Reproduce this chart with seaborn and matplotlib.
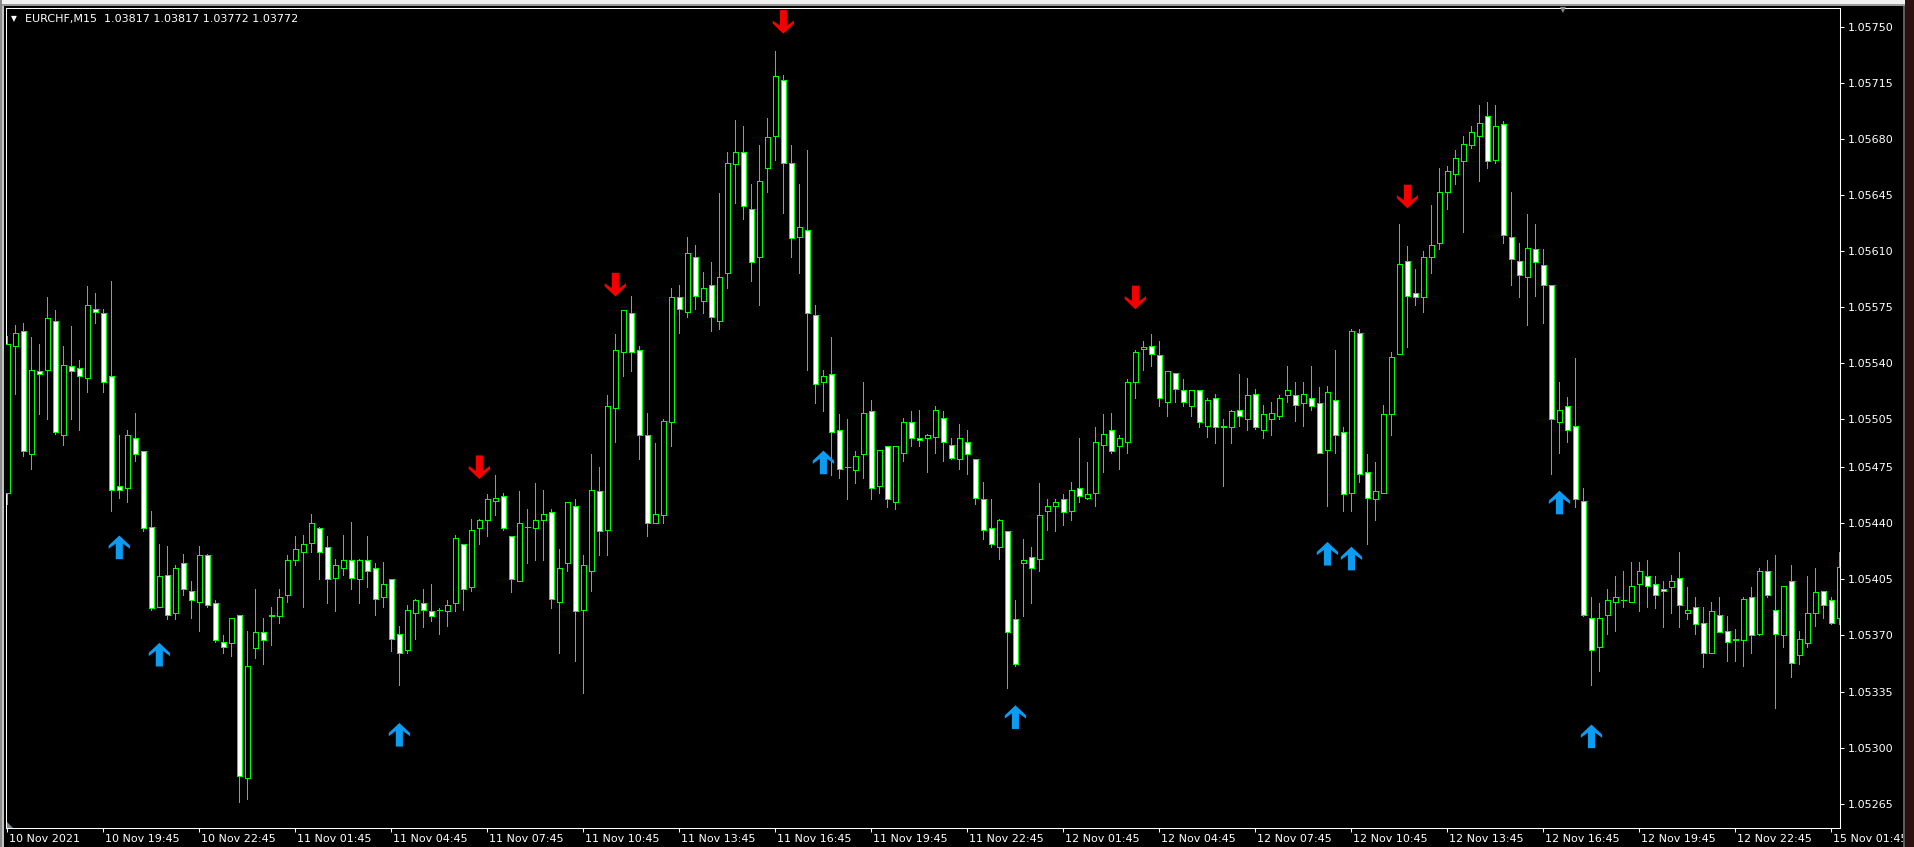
import numpy as np
import pandas as pd
import matplotlib
matplotlib.use("Agg")
import matplotlib.pyplot as plt
from matplotlib.path import Path
from matplotlib.patches import Rectangle, Polygon
from matplotlib.transforms import ScaledTranslation
import seaborn as sns

# ---------------- data (EURCHF M15) ----------------
opens = [
    1.05459, 1.05551, 1.05560, 1.05483, 1.05535, 1.05536, 1.05566, 1.05495, 1.05538, 1.05537,
    1.05531, 1.05574, 1.05571, 1.05532, 1.05463, 1.05462, 1.05493, 1.05485, 1.05438, 1.05388,
    1.05408, 1.05384, 1.05415, 1.05398, 1.05391, 1.05420, 1.05390, 1.05366, 1.05365, 1.05383,
    1.05281, 1.05362, 1.05372, 1.05382, 1.05382, 1.05395, 1.05417, 1.05422, 1.05428, 1.05437,
    1.05425, 1.05406, 1.05412, 1.05417, 1.05405, 1.05417, 1.05412, 1.05394, 1.05405, 1.05371,
    1.05361, 1.05384, 1.05390, 1.05385, 1.05386, 1.05385, 1.05390, 1.05427, 1.05400, 1.05437,
    1.05442, 1.05454, 1.05457, 1.05432, 1.05404, 1.05438, 1.05437, 1.05442, 1.05447, 1.05391,
    1.05415, 1.05451, 1.05386, 1.05410, 1.05460, 1.05436, 1.05512, 1.05547, 1.05571, 1.05548,
    1.05495, 1.05440, 1.05445, 1.05503, 1.05581, 1.05572, 1.05606, 1.05579, 1.05589, 1.05566,
    1.05596, 1.05664, 1.05672, 1.05636, 1.05606, 1.05662, 1.05682, 1.05717, 1.05665, 1.05619,
    1.05623, 1.05570, 1.05528, 1.05533, 1.05498, 1.05475, 1.05473, 1.05483, 1.05510, 1.05463,
    1.05488, 1.05453, 1.05484, 1.05503, 1.05493, 1.05493, 1.05494, 1.05506, 1.05489, 1.05480,
    1.05491, 1.05480, 1.05455, 1.05437, 1.05425, 1.05435, 1.05380, 1.05415, 1.05419, 1.05418,
    1.05448, 1.05451, 1.05455, 1.05448, 1.05462, 1.05456, 1.05459, 1.05489, 1.05498, 1.05488,
    1.05491, 1.05528, 1.05549, 1.05551, 1.05545, 1.05516, 1.05534, 1.05523, 1.05513, 1.05523,
    1.05501, 1.05518, 1.05500, 1.05500, 1.05511, 1.05505, 1.05521, 1.05498, 1.05505, 1.05507,
    1.05520, 1.05520, 1.05515, 1.05518, 1.05515, 1.05486, 1.05517, 1.05497, 1.05459, 1.05559,
    1.05472, 1.05455, 1.05459, 1.05508, 1.05546, 1.05604, 1.05584, 1.05581, 1.05606, 1.05615,
    1.05647, 1.05658, 1.05666, 1.05676, 1.05682, 1.05694, 1.05667, 1.05689, 1.05619, 1.05604,
    1.05594, 1.05611, 1.05601, 1.05589, 1.05503, 1.05513, 1.05501, 1.05454, 1.05381, 1.05363,
    1.05383, 1.05391, 1.05392, 1.05391, 1.05402, 1.05407, 1.05402, 1.05399, 1.05400, 1.05406,
    1.05384, 1.05388, 1.05378, 1.05359, 1.05383, 1.05373, 1.05368, 1.05367, 1.05394, 1.05371,
    1.05410, 1.05386, 1.05370, 1.05404, 1.05358, 1.05365, 1.05384, 1.05398, 1.05392, 1.05381,
]
highs = [
    1.05557, 1.05564, 1.05565, 1.05556, 1.05552, 1.05581, 1.05573, 1.05551, 1.05563, 1.05542,
    1.05588, 1.05584, 1.05574, 1.05591, 1.05495, 1.05498, 1.05509, 1.05485, 1.05448, 1.05427,
    1.05426, 1.05414, 1.05421, 1.05404, 1.05426, 1.05421, 1.05392, 1.05370, 1.05381, 1.05383,
    1.05373, 1.05399, 1.05381, 1.05388, 1.05399, 1.05420, 1.05432, 1.05433, 1.05446, 1.05438,
    1.05432, 1.05418, 1.05433, 1.05441, 1.05418, 1.05432, 1.05415, 1.05416, 1.05405, 1.05376,
    1.05389, 1.05393, 1.05399, 1.05402, 1.05387, 1.05392, 1.05433, 1.05427, 1.05443, 1.05443,
    1.05458, 1.05470, 1.05459, 1.05432, 1.05460, 1.05449, 1.05465, 1.05461, 1.05449, 1.05424,
    1.05453, 1.05455, 1.05420, 1.05483, 1.05475, 1.05520, 1.05558, 1.05573, 1.05582, 1.05551,
    1.05509, 1.05490, 1.05505, 1.05587, 1.05589, 1.05619, 1.05614, 1.05597, 1.05603, 1.05646,
    1.05672, 1.05692, 1.05688, 1.05652, 1.05676, 1.05693, 1.05735, 1.05720, 1.05676, 1.05652,
    1.05673, 1.05576, 1.05536, 1.05556, 1.05508, 1.05505, 1.05485, 1.05528, 1.05517, 1.05486,
    1.05488, 1.05488, 1.05506, 1.05510, 1.05511, 1.05496, 1.05513, 1.05510, 1.05493, 1.05502,
    1.05498, 1.05480, 1.05466, 1.05455, 1.05443, 1.05435, 1.05392, 1.05430, 1.05425, 1.05465,
    1.05455, 1.05455, 1.05458, 1.05466, 1.05493, 1.05478, 1.05500, 1.05508, 1.05509, 1.05495,
    1.05530, 1.05548, 1.05554, 1.05558, 1.05554, 1.05535, 1.05534, 1.05530, 1.05523, 1.05523,
    1.05518, 1.05521, 1.05505, 1.05511, 1.05533, 1.05531, 1.05524, 1.05514, 1.05516, 1.05520,
    1.05538, 1.05528, 1.05528, 1.05538, 1.05525, 1.05526, 1.05548, 1.05500, 1.05561, 1.05561,
    1.05483, 1.05478, 1.05514, 1.05547, 1.05627, 1.05613, 1.05599, 1.05610, 1.05639, 1.05662,
    1.05663, 1.05673, 1.05682, 1.05688, 1.05701, 1.05703, 1.05701, 1.05691, 1.05647, 1.05615,
    1.05633, 1.05627, 1.05611, 1.05589, 1.05528, 1.05519, 1.05543, 1.05462, 1.05394, 1.05390,
    1.05399, 1.05407, 1.05410, 1.05416, 1.05416, 1.05417, 1.05407, 1.05404, 1.05408, 1.05422,
    1.05400, 1.05394, 1.05388, 1.05391, 1.05394, 1.05382, 1.05374, 1.05394, 1.05400, 1.05412,
    1.05417, 1.05420, 1.05401, 1.05414, 1.05373, 1.05407, 1.05412, 1.05398, 1.05394, 1.05422,
]
lows = [
    1.05452, 1.05521, 1.05482, 1.05474, 1.05508, 1.05505, 1.05496, 1.05489, 1.05505, 1.05498,
    1.05522, 1.05565, 1.05522, 1.05448, 1.05456, 1.05453, 1.05479, 1.05435, 1.05386, 1.05388,
    1.05380, 1.05380, 1.05395, 1.05381, 1.05373, 1.05388, 1.05366, 1.05359, 1.05357, 1.05266,
    1.05268, 1.05356, 1.05352, 1.05364, 1.05378, 1.05391, 1.05414, 1.05388, 1.05422, 1.05405,
    1.05390, 1.05385, 1.05408, 1.05399, 1.05390, 1.05400, 1.05383, 1.05388, 1.05360, 1.05339,
    1.05359, 1.05368, 1.05375, 1.05379, 1.05371, 1.05376, 1.05385, 1.05386, 1.05398, 1.05427,
    1.05432, 1.05445, 1.05436, 1.05397, 1.05404, 1.05415, 1.05417, 1.05417, 1.05387, 1.05359,
    1.05410, 1.05354, 1.05334, 1.05398, 1.05420, 1.05420, 1.05491, 1.05532, 1.05535, 1.05480,
    1.05432, 1.05440, 1.05440, 1.05488, 1.05559, 1.05569, 1.05574, 1.05571, 1.05560, 1.05561,
    1.05587, 1.05640, 1.05630, 1.05591, 1.05576, 1.05647, 1.05667, 1.05634, 1.05606, 1.05596,
    1.05536, 1.05515, 1.05510, 1.05470, 1.05468, 1.05455, 1.05465, 1.05468, 1.05455, 1.05459,
    1.05450, 1.05449, 1.05479, 1.05488, 1.05488, 1.05472, 1.05484, 1.05479, 1.05480, 1.05474,
    1.05471, 1.05452, 1.05430, 1.05425, 1.05418, 1.05337, 1.05351, 1.05382, 1.05390, 1.05410,
    1.05436, 1.05435, 1.05439, 1.05442, 1.05453, 1.05455, 1.05451, 1.05472, 1.05484, 1.05474,
    1.05484, 1.05518, 1.05536, 1.05538, 1.05513, 1.05507, 1.05516, 1.05513, 1.05507, 1.05500,
    1.05494, 1.05490, 1.05463, 1.05490, 1.05501, 1.05498, 1.05499, 1.05493, 1.05495, 1.05505,
    1.05516, 1.05504, 1.05501, 1.05511, 1.05484, 1.05451, 1.05484, 1.05448, 1.05448, 1.05466,
    1.05427, 1.05442, 1.05459, 1.05495, 1.05546, 1.05550, 1.05576, 1.05572, 1.05596, 1.05611,
    1.05636, 1.05652, 1.05622, 1.05674, 1.05654, 1.05662, 1.05665, 1.05615, 1.05589, 1.05581,
    1.05564, 1.05582, 1.05565, 1.05471, 1.05484, 1.05491, 1.05450, 1.05382, 1.05339, 1.05348,
    1.05371, 1.05373, 1.05388, 1.05391, 1.05385, 1.05388, 1.05387, 1.05375, 1.05384, 1.05375,
    1.05380, 1.05371, 1.05350, 1.05359, 1.05372, 1.05354, 1.05354, 1.05351, 1.05359, 1.05370,
    1.05394, 1.05325, 1.05363, 1.05344, 1.05352, 1.05363, 1.05376, 1.05381, 1.05377, 1.05377,
]
closes = [
    1.05552, 1.05559, 1.05485, 1.05536, 1.05533, 1.05568, 1.05497, 1.05539, 1.05535, 1.05532,
    1.05576, 1.05572, 1.05528, 1.05461, 1.05461, 1.05495, 1.05483, 1.05437, 1.05387, 1.05407,
    1.05383, 1.05412, 1.05399, 1.05392, 1.05420, 1.05389, 1.05367, 1.05363, 1.05381, 1.05282,
    1.05351, 1.05372, 1.05367, 1.05383, 1.05394, 1.05417, 1.05424, 1.05427, 1.05440, 1.05422,
    1.05405, 1.05414, 1.05417, 1.05406, 1.05417, 1.05410, 1.05393, 1.05402, 1.05368, 1.05359,
    1.05386, 1.05392, 1.05386, 1.05382, 1.05386, 1.05389, 1.05431, 1.05399, 1.05436, 1.05442,
    1.05455, 1.05456, 1.05437, 1.05405, 1.05440, 1.05438, 1.05442, 1.05446, 1.05393, 1.05412,
    1.05453, 1.05385, 1.05414, 1.05461, 1.05435, 1.05513, 1.05548, 1.05573, 1.05547, 1.05495,
    1.05440, 1.05446, 1.05504, 1.05581, 1.05574, 1.05609, 1.05582, 1.05587, 1.05569, 1.05594,
    1.05665, 1.05672, 1.05638, 1.05603, 1.05654, 1.05681, 1.05719, 1.05665, 1.05618, 1.05625,
    1.05571, 1.05527, 1.05532, 1.05497, 1.05474, 1.05475, 1.05482, 1.05509, 1.05462, 1.05486,
    1.05455, 1.05488, 1.05503, 1.05493, 1.05492, 1.05495, 1.05511, 1.05491, 1.05481, 1.05493,
    1.05483, 1.05456, 1.05436, 1.05427, 1.05442, 1.05372, 1.05352, 1.05417, 1.05412, 1.05445,
    1.05451, 1.05453, 1.05447, 1.05461, 1.05457, 1.05458, 1.05491, 1.05496, 1.05485, 1.05493,
    1.05528, 1.05547, 1.05550, 1.05546, 1.05518, 1.05535, 1.05524, 1.05516, 1.05523, 1.05503,
    1.05517, 1.05500, 1.05501, 1.05510, 1.05507, 1.05520, 1.05500, 1.05508, 1.05509, 1.05518,
    1.05523, 1.05514, 1.05521, 1.05513, 1.05484, 1.05522, 1.05495, 1.05458, 1.05560, 1.05471,
    1.05456, 1.05460, 1.05508, 1.05544, 1.05602, 1.05582, 1.05581, 1.05606, 1.05614, 1.05647,
    1.05660, 1.05668, 1.05677, 1.05684, 1.05690, 1.05666, 1.05688, 1.05620, 1.05605, 1.05595,
    1.05612, 1.05603, 1.05589, 1.05505, 1.05511, 1.05498, 1.05455, 1.05383, 1.05361, 1.05381,
    1.05392, 1.05394, 1.05392, 1.05401, 1.05410, 1.05401, 1.05395, 1.05398, 1.05404, 1.05389,
    1.05386, 1.05377, 1.05359, 1.05385, 1.05372, 1.05366, 1.05367, 1.05393, 1.05370, 1.05410,
    1.05395, 1.05371, 1.05401, 1.05353, 1.05368, 1.05384, 1.05397, 1.05389, 1.05378, 1.05413,
]

# signal arrows (bar index, price level of the arrow)
buy_idx = [14, 19, 49, 102, 126, 165, 168, 194, 198]
buy_price = [1.05425, 1.05358, 1.05308, 1.05478, 1.05319, 1.05421, 1.05418, 1.05453, 1.05307]
sell_idx = [59, 76, 97, 141, 175]
sell_price = [1.05475, 1.05589, 1.05753, 1.05581, 1.05644]

xtick_labels = ["10 Nov 2021", "10 Nov 19:45", "10 Nov 22:45", "11 Nov 01:45", "11 Nov 04:45",
                "11 Nov 07:45", "11 Nov 10:45", "11 Nov 13:45", "11 Nov 16:45", "11 Nov 19:45",
                "11 Nov 22:45", "12 Nov 01:45", "12 Nov 04:45", "12 Nov 07:45", "12 Nov 10:45",
                "12 Nov 13:45", "12 Nov 16:45", "12 Nov 19:45", "12 Nov 22:45", "15 Nov 01:45"]
xtick_step = 12
ytick_labels = ["1.05750", "1.05715", "1.05680", "1.05645", "1.05610", "1.05575", "1.05540",
                "1.05505", "1.05475", "1.05440", "1.05405", "1.05370", "1.05335", "1.05300",
                "1.05265"]
title_text = "EURCHF,M15  1.03817 1.03817 1.03772 1.03772"

# ---------------- style ----------------
W, H = 1915, 847
GREEN = "#00ff00"
BLUE = "#0c9cf2"
RED = "#f50000"
LW = 0.5  # about one device pixel

sns.set_theme(style="dark")
plt.rcParams["font.family"] = ["DejaVu Sans"]

fig = plt.figure(figsize=(W / 100, H / 100), dpi=100, facecolor="black")


def fx(px):
    return px / W


def fy(py):
    return 1 - py / H


ax_l, ax_r, ax_t, ax_b = 6.5, 1840.3, 8.3, 828.0
ax = fig.add_axes([fx(ax_l), fy(ax_b), (ax_r - ax_l) / W, (ax_b - ax_t) / H])
ax.set_facecolor("black")

df = pd.DataFrame({"open": opens, "high": highs, "low": lows, "close": closes})
df["idx"] = np.arange(len(df))
bull = df["close"] >= df["open"]

ax.vlines(df["idx"], df["low"], df["high"], colors=GREEN, linewidth=LW,
          antialiased=False, zorder=2)
body_bottom = np.minimum(df["open"], df["close"])
body_height = (df["close"] - df["open"]).abs()
ax.bar(df["idx"], body_height, bottom=body_bottom, width=0.56,
       color=list(np.where(bull, "black", "white")), edgecolor=GREEN,
       linewidth=LW, antialiased=False, zorder=3)

up_verts = [(0, 1), (0.9, 0.15), (0.9, -0.12), (0.3, 0.32), (0.3, -1),
            (-0.3, -1), (-0.3, 0.32), (-0.9, -0.12), (-0.9, 0.15), (0, 1)]
codes = [Path.MOVETO] + [Path.LINETO] * (len(up_verts) - 2) + [Path.CLOSEPOLY]
up_path = Path(up_verts, codes)
down_path = Path([(vx, -vy) for vx, vy in up_verts], codes)

sns.scatterplot(x=buy_idx, y=buy_price, marker=up_path, s=290, color=BLUE,
                edgecolor="none", linewidth=0, ax=ax, zorder=5, legend=False)
sns.scatterplot(x=sell_idx, y=sell_price, marker=down_path, s=290, color=RED,
                edgecolor="none", linewidth=0, ax=ax, zorder=5, legend=False)

ax.set_xlim(-0.1, 229.1)
ax.set_ylim(1.052498, 1.057615)
ax.grid(False)
for sp in ax.spines.values():
    sp.set_visible(True)
    sp.set_color("white")
    sp.set_linewidth(0.75)

ax.yaxis.tick_right()
ax.set_yticks([float(t) for t in ytick_labels], labels=ytick_labels)
ax.set_xticks(np.arange(0, xtick_step * len(xtick_labels), xtick_step), labels=xtick_labels)
ax.tick_params(axis="both", colors="white", labelcolor="white", labelsize=8,
               length=3, width=0.75, direction="out")
ax.tick_params(axis="y", left=False, labelleft=False, right=True, labelright=True, pad=2.5)
ax.tick_params(axis="x", bottom=True, labelbottom=True, pad=1.5)
for lab in ax.get_xticklabels():
    lab.set_horizontalalignment("left")
    lab.set_transform(lab.get_transform() + ScaledTranslation(1.5 / 100, 0, fig.dpi_scale_trans))
ax.set_xlabel("")
ax.set_ylabel("")

# title / symbol line
fig.text(fx(13.7), fy(18.3), "▼", color="white", fontsize=5.5, ha="center", va="center")
fig.text(fx(25), fy(18.7), title_text, color="white", fontsize=8, ha="left", va="center")


def add_rect(x0, y0, x1, y1, color, z=10):
    fig.add_artist(Rectangle((fx(x0), fy(y1)), (x1 - x0) / W, (y1 - y0) / H,
                             transform=fig.transFigure, facecolor=color,
                             edgecolor="none", zorder=z))


# window frame pieces
add_rect(0, 0, W, 4.3, "#f0f0f0")
add_rect(0, 4.3, W, 6.3, "#9a9a9a")
add_rect(0, 0, 2, H, "#8a8a8a")
add_rect(2, 6.3, 4, H, "#c4c4c4")
add_rect(1903, 6.3, 1905.5, H, "#5c5c5c")
add_rect(1905.5, 0, W, H, "#2b1010")

# small shift markers
fig.text(fx(1563), fy(9.5), "▼", color="#8c8c8c", fontsize=5.5, ha="center", va="center", zorder=11)
fig.add_artist(Polygon([(fx(7), fy(828)), (fx(13), fy(828)), (fx(7), fy(822))],
                       closed=True, transform=fig.transFigure, facecolor="#708898",
                       edgecolor="none", zorder=11))

fig.savefig("out.png", dpi=100, facecolor="black")
